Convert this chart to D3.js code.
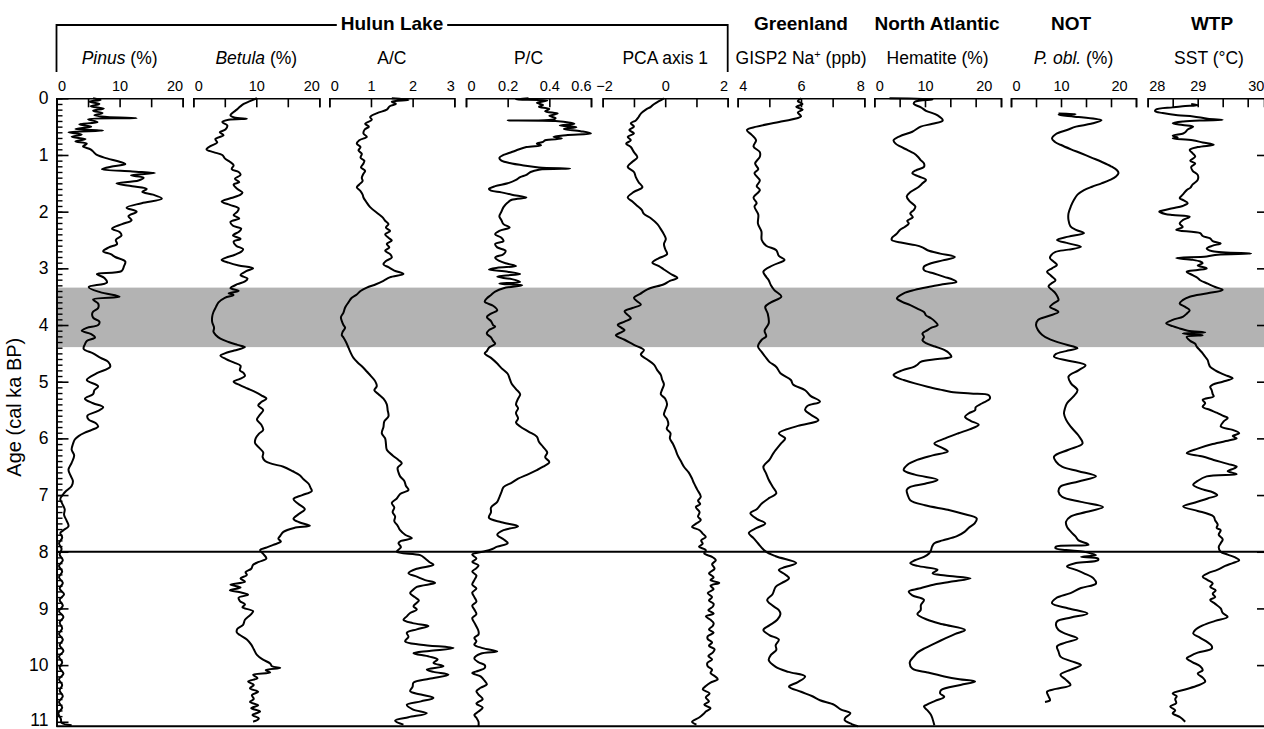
<!DOCTYPE html>
<html>
<head>
<meta charset="utf-8">
<script src="https://cdn.jsdelivr.net/npm/d3@7"></script>
<style>
  body { margin: 0; background: #fff; }
  svg { display: block; font-family: "Liberation Sans", Arial, sans-serif; }
</style>
</head>
<body>
<div class="chart"></div>
<script>
// records as [age (cal ka BP), value]
const pinus = [[0,5.8],[0.03,7.0],[0.06,5.2],[0.1,6.8],[0.14,5.4],[0.18,7.5],[0.22,5.8],[0.26,7.3],[0.3,6.0],[0.33,8.0],[0.35,12.7],[0.37,5.0],[0.42,6.5],[0.46,3.6],[0.5,5.5],[0.54,3.0],[0.57,7.4],[0.6,1.9],[0.64,4.0],[0.68,2.4],[0.72,4.6],[0.76,3.0],[0.8,4.8],[0.85,4.2],[0.9,5.4],[0.95,5.9],[1.0,6.4],[1.06,8.0],[1.12,10.0],[1.16,10.9],[1.2,9.0],[1.25,7.2],[1.29,12.0],[1.32,15.6],[1.36,11.8],[1.4,13.8],[1.45,13.0],[1.5,9.5],[1.55,12.0],[1.6,14.3],[1.65,13.6],[1.7,15.3],[1.77,16.7],[1.85,13.5],[1.93,11.1],[2.0,12.7],[2.08,11.4],[2.15,11.9],[2.22,10.4],[2.3,8.8],[2.36,10.0],[2.42,10.3],[2.5,9.4],[2.57,9.6],[2.63,8.3],[2.7,7.4],[2.75,8.6],[2.8,9.3],[2.88,10.9],[2.96,10.7],[3.05,10.3],[3.1,6.4],[3.17,7.6],[3.25,8.0],[3.33,5.1],[3.42,6.9],[3.5,10.0],[3.55,5.8],[3.62,6.6],[3.7,6.6],[3.78,5.7],[3.87,5.8],[3.94,6.8],[4.0,6.6],[4.05,4.8],[4.1,4.0],[4.16,5.5],[4.22,6.1],[4.28,4.8],[4.34,4.5],[4.42,4.3],[4.5,5.8],[4.58,7.0],[4.65,8.2],[4.74,8.5],[4.85,6.4],[4.97,4.8],[5.08,6.6],[5.15,6.0],[5.22,5.8],[5.3,4.5],[5.38,5.8],[5.45,7.4],[5.52,6.5],[5.6,4.9],[5.67,5.1],[5.73,6.2],[5.79,6.6],[5.85,5.6],[5.9,4.5],[5.96,3.5],[6.02,2.9],[6.1,2.6],[6.2,2.4],[6.3,2.8],[6.43,2.4],[6.55,1.9],[6.65,2.2],[6.75,2.6],[6.84,2.4],[6.92,1.6],[6.98,1.1],[7.07,0.6],[7.15,0.9],[7.25,1.3],[7.35,1.2],[7.45,1.6],[7.55,1.9],[7.62,1.1],[7.67,0.6],[7.75,0.9],[7.85,0.4],[7.95,0.8],[8.05,0.5],[8.15,1.0],[8.25,0.4],[8.35,0.9],[8.45,0.4],[8.55,1.0],[8.65,0.5],[8.75,1.2],[8.85,0.5],[8.95,1.0],[9.05,0.4],[9.15,1.1],[9.25,0.5],[9.35,0.9],[9.45,0.4],[9.55,1.0],[9.65,0.5],[9.75,1.1],[9.85,0.4],[9.95,0.9],[10.05,0.5],[10.15,1.1],[10.25,0.4],[10.35,0.9],[10.45,0.5],[10.55,1.0],[10.65,0.4],[10.75,0.9],[10.85,0.3],[10.95,0.7],[11.02,0.8],[11.06,2.4]];

const betula = [[0,10.1],[0.05,9.0],[0.1,8.0],[0.15,7.4],[0.2,6.9],[0.26,6.2],[0.3,5.9],[0.34,6.5],[0.36,8.5],[0.38,5.6],[0.42,4.6],[0.48,5.4],[0.55,5.1],[0.6,4.2],[0.65,4.8],[0.72,3.5],[0.78,3.8],[0.84,2.8],[0.9,2.1],[0.95,3.2],[1.0,4.6],[1.06,5.0],[1.12,5.8],[1.18,6.4],[1.25,6.1],[1.3,7.2],[1.35,7.5],[1.42,6.6],[1.48,7.3],[1.52,6.4],[1.6,7.0],[1.66,7.8],[1.7,7.5],[1.76,6.0],[1.82,4.5],[1.88,5.8],[1.94,7.2],[2.0,7.0],[2.06,6.4],[2.12,7.3],[2.18,5.9],[2.25,6.3],[2.3,7.6],[2.35,7.3],[2.42,6.3],[2.48,7.5],[2.53,6.4],[2.6,6.8],[2.66,7.9],[2.7,7.7],[2.76,6.6],[2.81,5.2],[2.85,4.5],[2.9,5.6],[2.95,7.2],[3.0,9.5],[3.05,8.4],[3.12,7.5],[3.18,8.6],[3.23,8.2],[3.28,7.0],[3.35,5.9],[3.4,7.2],[3.44,5.6],[3.47,6.4],[3.52,5.0],[3.6,4.0],[3.68,3.6],[3.77,3.2],[3.85,3.0],[3.95,3.0],[4.05,3.3],[4.12,3.2],[4.18,3.6],[4.24,4.3],[4.3,5.6],[4.35,7.0],[4.39,8.2],[4.45,6.5],[4.5,5.0],[4.54,4.3],[4.6,5.2],[4.66,6.4],[4.72,7.5],[4.8,7.4],[4.85,8.0],[4.9,8.2],[4.95,7.4],[5.0,6.4],[5.06,7.4],[5.12,8.6],[5.18,9.8],[5.24,10.8],[5.3,11.6],[5.36,10.8],[5.42,10.3],[5.5,11.1],[5.58,10.6],[5.67,10.1],[5.76,10.8],[5.85,11.1],[5.92,10.4],[6.0,9.9],[6.08,9.8],[6.16,10.4],[6.25,11.1],[6.33,11.0],[6.4,11.4],[6.45,12.5],[6.5,14.3],[6.58,15.8],[6.65,16.9],[6.72,17.5],[6.8,18.3],[6.87,18.6],[6.93,18.8],[7.0,17.3],[7.07,15.9],[7.15,16.6],[7.25,17.7],[7.33,16.8],[7.42,15.9],[7.48,16.8],[7.54,18.5],[7.58,16.0],[7.65,14.3],[7.72,13.8],[7.77,13.5],[7.82,13.9],[7.88,12.7],[7.93,11.5],[7.97,10.6],[8.05,11.2],[8.12,11.6],[8.18,10.4],[8.23,9.5],[8.3,9.2],[8.36,8.3],[8.41,8.5],[8.47,7.5],[8.53,8.2],[8.58,5.9],[8.63,7.5],[8.68,5.8],[8.72,7.6],[8.76,8.7],[8.81,7.2],[8.87,7.4],[8.93,8.2],[8.98,7.8],[9.05,9.5],[9.12,9.0],[9.2,8.2],[9.29,7.9],[9.36,7.0],[9.42,6.9],[9.47,7.4],[9.55,8.5],[9.64,9.2],[9.72,9.6],[9.82,10.1],[9.9,11.0],[9.97,12.2],[10.02,12.5],[10.05,13.8],[10.09,11.5],[10.13,12.2],[10.17,9.5],[10.23,10.2],[10.29,8.7],[10.35,9.6],[10.41,9.0],[10.47,10.3],[10.53,9.3],[10.6,9.6],[10.65,9.0],[10.71,10.3],[10.76,9.2],[10.82,10.6],[10.88,9.4],[10.94,10.4],[11.0,9.5]];

const ac = [[0,1.5],[0.03,1.9],[0.06,1.5],[0.1,1.6],[0.14,1.45],[0.2,1.38],[0.26,1.15],[0.33,0.98],[0.38,1.02],[0.45,0.86],[0.5,0.95],[0.55,0.85],[0.62,0.82],[0.68,0.9],[0.74,0.72],[0.8,0.66],[0.86,0.75],[0.92,0.7],[0.98,0.78],[1.05,0.75],[1.1,0.84],[1.15,0.82],[1.22,0.76],[1.28,0.86],[1.33,0.82],[1.4,0.78],[1.46,0.8],[1.52,0.72],[1.57,0.66],[1.63,0.74],[1.7,0.8],[1.75,0.82],[1.82,0.88],[1.92,0.98],[2.04,1.18],[2.1,1.28],[2.16,1.34],[2.22,1.42],[2.28,1.36],[2.34,1.46],[2.4,1.34],[2.46,1.42],[2.51,1.5],[2.57,1.38],[2.63,1.44],[2.69,1.34],[2.75,1.46],[2.81,1.5],[2.87,1.36],[2.93,1.3],[2.98,1.42],[3.04,1.56],[3.1,1.78],[3.16,1.45],[3.22,1.3],[3.28,1.12],[3.34,0.9],[3.4,0.75],[3.46,0.66],[3.52,0.54],[3.6,0.46],[3.69,0.38],[3.78,0.34],[3.86,0.28],[3.93,0.3],[4.0,0.34],[4.05,0.38],[4.12,0.32],[4.18,0.3],[4.22,0.34],[4.3,0.4],[4.4,0.46],[4.5,0.52],[4.58,0.58],[4.66,0.68],[4.74,0.8],[4.82,0.9],[4.9,1.0],[4.99,1.1],[5.08,1.14],[5.15,1.08],[5.22,1.18],[5.3,1.3],[5.4,1.38],[5.5,1.4],[5.61,1.42],[5.7,1.32],[5.8,1.3],[5.91,1.26],[6.0,1.34],[6.1,1.36],[6.2,1.38],[6.3,1.52],[6.38,1.66],[6.44,1.74],[6.52,1.64],[6.6,1.66],[6.67,1.7],[6.75,1.8],[6.84,1.84],[6.91,1.9],[6.98,1.7],[7.06,1.62],[7.14,1.5],[7.22,1.56],[7.3,1.52],[7.38,1.58],[7.46,1.56],[7.54,1.64],[7.62,1.7],[7.7,1.82],[7.76,1.98],[7.81,1.72],[7.85,1.66],[7.92,1.72],[8.0,1.62],[8.06,2.18],[8.12,2.3],[8.18,2.4],[8.23,2.5],[8.3,2.1],[8.38,1.9],[8.44,2.1],[8.5,2.3],[8.55,2.54],[8.62,2.1],[8.68,2.0],[8.73,1.94],[8.8,2.05],[8.86,2.15],[8.9,2.1],[8.96,2.02],[9.02,2.1],[9.08,1.94],[9.14,1.86],[9.2,1.78],[9.26,2.0],[9.31,2.38],[9.37,2.1],[9.43,1.86],[9.5,1.9],[9.58,1.82],[9.64,2.2],[9.7,2.98],[9.75,2.4],[9.79,2.02],[9.85,2.4],[9.9,2.6],[9.96,2.5],[10.02,2.74],[10.08,2.34],[10.12,2.5],[10.17,2.86],[10.24,2.4],[10.31,2.02],[10.38,2.0],[10.46,1.94],[10.52,2.2],[10.58,2.5],[10.64,2.2],[10.7,1.86],[10.78,2.0],[10.85,2.34],[10.92,1.9],[10.98,1.58],[11.05,1.78]];

const pc = [[0,0.3],[0.02,0.24],[0.04,0.39],[0.08,0.34],[0.12,0.37],[0.15,0.35],[0.19,0.4],[0.23,0.38],[0.27,0.44],[0.31,0.4],[0.35,0.43],[0.38,0.41],[0.39,0.2],[0.4,0.43],[0.43,0.5],[0.45,0.52],[0.48,0.45],[0.51,0.53],[0.54,0.47],[0.58,0.55],[0.62,0.6],[0.65,0.48],[0.68,0.42],[0.71,0.46],[0.74,0.38],[0.77,0.37],[0.8,0.34],[0.83,0.36],[0.86,0.29],[0.92,0.24],[0.96,0.21],[1.0,0.18],[1.05,0.16],[1.1,0.17],[1.15,0.22],[1.18,0.27],[1.22,0.35],[1.24,0.5],[1.26,0.35],[1.3,0.31],[1.35,0.29],[1.39,0.26],[1.44,0.24],[1.5,0.2],[1.55,0.14],[1.6,0.11],[1.63,0.12],[1.66,0.17],[1.7,0.22],[1.75,0.29],[1.79,0.22],[1.84,0.2],[1.92,0.18],[2.0,0.17],[2.08,0.16],[2.15,0.17],[2.22,0.18],[2.28,0.21],[2.34,0.16],[2.4,0.14],[2.46,0.17],[2.52,0.18],[2.57,0.14],[2.63,0.15],[2.69,0.19],[2.75,0.18],[2.81,0.14],[2.87,0.16],[2.92,0.2],[2.96,0.24],[2.99,0.15],[3.02,0.11],[3.06,0.2],[3.1,0.26],[3.13,0.18],[3.15,0.15],[3.19,0.22],[3.24,0.26],[3.27,0.16],[3.3,0.27],[3.35,0.18],[3.41,0.14],[3.47,0.12],[3.53,0.1],[3.59,0.09],[3.66,0.13],[3.74,0.15],[3.8,0.12],[3.86,0.1],[3.93,0.12],[4.0,0.13],[4.03,0.14],[4.09,0.11],[4.15,0.1],[4.22,0.12],[4.28,0.13],[4.33,0.14],[4.4,0.11],[4.46,0.1],[4.5,0.09],[4.58,0.12],[4.68,0.15],[4.76,0.17],[4.86,0.2],[4.95,0.21],[5.04,0.22],[5.13,0.24],[5.22,0.26],[5.3,0.25],[5.4,0.24],[5.47,0.25],[5.55,0.24],[5.65,0.25],[5.72,0.24],[5.79,0.26],[5.88,0.3],[5.97,0.34],[6.06,0.35],[6.15,0.37],[6.25,0.39],[6.33,0.38],[6.42,0.4],[6.5,0.37],[6.56,0.34],[6.63,0.3],[6.71,0.25],[6.78,0.22],[6.86,0.18],[6.95,0.17],[7.04,0.16],[7.12,0.15],[7.22,0.12],[7.3,0.12],[7.4,0.11],[7.48,0.17],[7.55,0.25],[7.62,0.18],[7.7,0.15],[7.78,0.18],[7.85,0.2],[7.91,0.15],[7.96,0.12],[8.0,0.08],[8.05,0.03],[8.12,0.05],[8.18,0.03],[8.24,0.06],[8.29,0.05],[8.35,0.03],[8.42,0.05],[8.5,0.04],[8.58,0.03],[8.65,0.05],[8.72,0.03],[8.8,0.04],[8.88,0.05],[8.95,0.03],[9.02,0.04],[9.1,0.05],[9.17,0.03],[9.25,0.04],[9.32,0.05],[9.4,0.06],[9.46,0.06],[9.52,0.04],[9.58,0.05],[9.64,0.04],[9.7,0.08],[9.76,0.15],[9.8,0.07],[9.88,0.04],[9.95,0.06],[10.0,0.09],[10.05,0.09],[10.1,0.06],[10.14,0.03],[10.2,0.07],[10.28,0.09],[10.34,0.1],[10.4,0.07],[10.46,0.05],[10.52,0.06],[10.6,0.08],[10.68,0.05],[10.75,0.08],[10.82,0.06],[10.88,0.04],[10.93,0.05],[11.0,0.06],[11.08,0.06]];

const pca = [[0,-0.04],[0.05,-0.2],[0.1,-0.35],[0.15,-0.46],[0.2,-0.62],[0.27,-0.78],[0.33,-0.85],[0.39,-0.94],[0.44,-1.1],[0.5,-1.0],[0.56,-1.15],[0.62,-1.0],[0.68,-1.2],[0.74,-1.1],[0.8,-1.25],[0.86,-1.1],[0.95,-1.0],[1.04,-0.89],[1.12,-1.05],[1.21,-1.2],[1.3,-1.0],[1.39,-0.94],[1.48,-0.85],[1.57,-0.73],[1.65,-1.0],[1.75,-1.2],[1.82,-1.05],[1.9,-0.89],[1.97,-0.75],[2.04,-0.68],[2.12,-0.45],[2.22,-0.25],[2.3,-0.15],[2.4,-0.04],[2.48,0.02],[2.57,-0.04],[2.66,0.0],[2.75,0.06],[2.82,-0.2],[2.9,-0.41],[2.96,-0.2],[3.02,-0.04],[3.1,0.18],[3.17,0.39],[3.22,0.15],[3.28,-0.04],[3.37,-0.57],[3.45,-0.8],[3.52,-1.0],[3.58,-0.9],[3.64,-0.78],[3.7,-1.05],[3.76,-1.3],[3.82,-1.2],[3.88,-1.1],[3.94,-1.3],[4.0,-1.52],[4.05,-1.4],[4.09,-1.3],[4.14,-1.45],[4.18,-1.58],[4.26,-1.3],[4.35,-1.0],[4.44,-0.68],[4.52,-0.78],[4.6,-0.6],[4.7,-0.36],[4.8,-0.25],[4.88,-0.14],[4.96,-0.1],[5.05,-0.04],[5.14,-0.1],[5.22,-0.14],[5.3,0.0],[5.4,0.06],[5.5,0.0],[5.58,-0.04],[5.66,0.06],[5.75,0.1],[5.83,0.05],[5.91,0.17],[6.0,0.15],[6.1,0.25],[6.2,0.33],[6.3,0.4],[6.4,0.5],[6.5,0.6],[6.6,0.75],[6.7,0.85],[6.79,0.92],[6.9,1.02],[7.03,1.14],[7.1,1.05],[7.16,1.12],[7.21,0.98],[7.3,1.1],[7.38,1.05],[7.44,1.14],[7.5,1.0],[7.56,0.86],[7.62,1.1],[7.68,1.2],[7.74,1.3],[7.8,1.15],[7.86,1.2],[7.91,1.08],[7.97,1.3],[8.03,1.25],[8.09,1.5],[8.15,1.62],[8.22,1.5],[8.3,1.58],[8.38,1.4],[8.45,1.55],[8.5,1.45],[8.55,1.73],[8.6,1.45],[8.66,1.55],[8.73,1.36],[8.8,1.5],[8.86,1.4],[8.92,1.55],[8.97,1.52],[9.03,1.38],[9.09,1.55],[9.14,1.3],[9.2,1.45],[9.26,1.55],[9.31,1.52],[9.37,1.4],[9.43,1.55],[9.49,1.36],[9.54,1.36],[9.6,1.5],[9.66,1.4],[9.72,1.58],[9.78,1.52],[9.84,1.38],[9.9,1.5],[9.96,1.35],[10.02,1.36],[10.08,1.5],[10.14,1.45],[10.2,1.6],[10.25,1.68],[10.31,1.45],[10.37,1.3],[10.43,1.2],[10.5,1.42],[10.57,1.3],[10.64,1.4],[10.7,1.25],[10.76,1.45],[10.82,1.3],[10.85,1.25],[10.92,1.1],[11.0,0.86],[11.05,1.0]];

const gisp2 = [[0,6.0],[0.05,5.9],[0.1,6.05],[0.15,5.85],[0.2,6.05],[0.25,5.9],[0.32,6.0],[0.41,5.37],[0.5,4.6],[0.56,4.29],[0.65,4.45],[0.74,4.58],[0.85,4.5],[0.95,4.7],[1.03,4.7],[1.15,4.55],[1.25,4.65],[1.32,4.53],[1.45,4.7],[1.55,4.6],[1.62,4.7],[1.75,4.5],[1.85,4.6],[1.91,4.53],[2.05,4.65],[2.21,4.64],[2.35,4.75],[2.5,4.76],[2.6,4.9],[2.68,5.22],[2.78,5.3],[2.85,5.48],[2.95,5.1],[3.06,4.81],[3.15,4.9],[3.21,4.98],[3.3,5.05],[3.38,5.15],[3.5,5.38],[3.6,5.05],[3.68,4.87],[3.8,4.95],[3.97,4.98],[4.1,4.85],[4.2,4.9],[4.26,4.76],[4.38,4.64],[4.47,4.75],[4.56,4.87],[4.65,5.0],[4.74,5.22],[4.85,5.35],[4.97,5.68],[5.05,5.75],[5.15,6.13],[5.25,6.3],[5.35,6.6],[5.43,6.2],[5.5,6.13],[5.58,6.3],[5.68,6.55],[5.78,5.9],[5.91,5.3],[6.0,5.5],[6.09,5.37],[6.26,5.13],[6.38,5.0],[6.5,4.81],[6.62,4.9],[6.73,4.98],[6.85,5.1],[6.97,5.22],[7.05,5.0],[7.15,4.76],[7.25,4.6],[7.32,4.4],[7.42,4.6],[7.5,4.87],[7.58,4.6],[7.67,4.35],[7.76,4.5],[7.85,4.64],[7.99,4.87],[8.08,5.2],[8.2,5.85],[8.27,5.5],[8.32,5.3],[8.4,5.5],[8.47,5.62],[8.55,5.4],[8.62,5.2],[8.75,5.1],[8.85,4.93],[8.95,5.1],[9.03,5.3],[9.1,5.35],[9.2,5.25],[9.3,5.0],[9.38,4.81],[9.47,5.0],[9.55,5.3],[9.65,5.2],[9.73,5.22],[9.82,5.05],[9.91,4.98],[10.03,5.2],[10.12,5.6],[10.2,6.13],[10.3,5.9],[10.38,5.62],[10.47,6.0],[10.55,6.36],[10.62,6.6],[10.7,7.05],[10.78,7.25],[10.85,7.56],[10.93,7.4],[10.97,7.38],[11.04,7.6],[11.08,7.8]];

const hematite = [[0,3.0],[0.02,11.5],[0.06,8.0],[0.1,7.8],[0.16,9.2],[0.22,10.2],[0.3,12.5],[0.39,13.5],[0.45,11.5],[0.5,9.15],[0.59,7.5],[0.67,5.0],[0.74,3.8],[0.8,4.2],[0.85,5.1],[0.91,6.5],[0.97,7.8],[1.03,8.6],[1.09,9.15],[1.15,9.8],[1.21,9.8],[1.27,8.2],[1.32,7.5],[1.38,8.8],[1.44,10.2],[1.5,9.5],[1.56,8.8],[1.65,7.2],[1.73,6.4],[1.82,7.0],[1.91,8.1],[1.97,7.8],[2.03,7.1],[2.1,7.6],[2.16,6.5],[2.21,6.8],[2.27,6.0],[2.32,5.1],[2.4,4.3],[2.46,3.5],[2.5,3.45],[2.55,5.5],[2.59,8.1],[2.63,9.5],[2.68,10.5],[2.74,13.0],[2.8,15.9],[2.86,13.5],[2.91,11.2],[2.97,9.8],[3.03,9.8],[3.09,11.8],[3.15,13.8],[3.2,15.5],[3.24,16.2],[3.28,13.5],[3.32,11.2],[3.38,8.0],[3.44,5.8],[3.53,4.46],[3.59,5.5],[3.65,7.1],[3.71,8.5],[3.77,9.8],[3.83,10.2],[3.88,11.2],[3.94,12.0],[4.0,12.5],[4.05,11.2],[4.09,10.5],[4.15,9.5],[4.21,9.8],[4.27,9.5],[4.32,10.2],[4.38,12.0],[4.44,13.8],[4.5,14.8],[4.56,15.2],[4.6,12.5],[4.65,9.15],[4.7,8.5],[4.74,7.8],[4.8,5.5],[4.88,3.8],[4.93,4.5],[4.97,5.8],[5.03,8.0],[5.09,10.5],[5.14,13.0],[5.18,15.2],[5.21,19.0],[5.24,22.6],[5.3,22.8],[5.38,21.3],[5.45,20.0],[5.5,19.9],[5.56,18.6],[5.62,17.9],[5.69,19.0],[5.76,20.6],[5.84,18.8],[5.91,16.6],[6.0,14.0],[6.09,11.85],[6.16,13.2],[6.23,14.5],[6.3,11.5],[6.38,8.45],[6.47,6.5],[6.56,5.8],[6.64,8.0],[6.73,12.5],[6.8,10.0],[6.86,7.0],[6.91,6.4],[7.0,6.6],[7.09,7.1],[7.18,10.0],[7.26,14.5],[7.33,17.5],[7.41,20.2],[7.5,19.8],[7.58,18.6],[7.65,17.8],[7.73,16.2],[7.8,13.5],[7.85,11.85],[7.91,11.4],[7.97,11.2],[8.03,10.8],[8.09,9.8],[8.15,8.0],[8.2,7.1],[8.25,8.5],[8.32,12.5],[8.38,11.5],[8.42,14.0],[8.47,19.0],[8.53,15.0],[8.59,11.2],[8.65,8.8],[8.7,6.8],[8.77,7.5],[8.85,9.8],[8.94,9.2],[9.03,9.15],[9.1,8.5],[9.2,10.5],[9.28,13.5],[9.38,17.9],[9.45,16.0],[9.53,14.0],[9.62,11.85],[9.7,10.0],[9.78,8.5],[9.85,7.8],[9.95,7.0],[10.06,7.5],[10.13,10.5],[10.2,13.8],[10.25,16.8],[10.29,19.9],[10.35,17.0],[10.44,13.2],[10.5,13.0],[10.56,13.8],[10.63,12.0],[10.7,10.3],[10.73,9.8],[10.8,10.5],[10.88,11.2],[10.95,11.5],[11.06,11.85]];

const pobl = [[0.27,9.5],[0.28,12.9],[0.29,9.5],[0.33,13.5],[0.39,18.1],[0.45,16.0],[0.5,13.0],[0.56,11.2],[0.63,9.0],[0.71,8.2],[0.77,8.8],[0.82,9.9],[0.9,12.0],[0.97,14.0],[1.05,16.2],[1.12,18.1],[1.2,20.0],[1.27,21.2],[1.32,21.5],[1.38,21.0],[1.44,19.8],[1.5,18.1],[1.56,16.2],[1.62,14.6],[1.7,13.3],[1.79,12.6],[1.9,12.0],[2.03,11.5],[2.15,11.5],[2.26,11.9],[2.32,13.0],[2.38,14.6],[2.44,11.5],[2.5,9.2],[2.56,11.5],[2.62,14.0],[2.67,11.5],[2.71,8.9],[2.77,8.0],[2.82,7.8],[2.88,8.5],[2.94,9.2],[3.0,8.2],[3.06,7.2],[3.13,8.0],[3.21,8.9],[3.27,8.0],[3.32,7.5],[3.38,8.2],[3.44,8.9],[3.5,9.3],[3.56,9.5],[3.62,8.5],[3.68,7.8],[3.72,8.6],[3.77,9.5],[3.84,7.5],[3.91,5.4],[4.0,5.0],[4.09,5.4],[4.17,6.2],[4.24,7.5],[4.32,10.0],[4.38,12.5],[4.41,13.3],[4.46,11.0],[4.51,9.0],[4.56,8.6],[4.63,11.5],[4.71,14.9],[4.8,13.5],[4.91,11.5],[5.03,12.0],[5.15,13.3],[5.26,12.5],[5.38,11.2],[5.47,10.8],[5.56,10.6],[5.67,11.0],[5.79,11.9],[5.95,13.5],[6.09,14.3],[6.2,11.5],[6.32,8.6],[6.41,9.0],[6.5,10.2],[6.58,13.5],[6.67,17.0],[6.76,13.5],[6.85,9.9],[6.94,9.5],[7.03,10.2],[7.12,14.0],[7.21,18.4],[7.3,15.0],[7.38,11.9],[7.47,11.0],[7.56,11.2],[7.65,12.0],[7.73,12.9],[7.8,13.5],[7.86,15.3],[7.88,15.5],[7.91,9.0],[7.94,8.9],[7.97,11.0],[8.0,14.6],[8.03,16.0],[8.06,17.0],[8.09,14.0],[8.12,17.4],[8.15,17.4],[8.2,13.0],[8.26,11.2],[8.32,13.0],[8.38,14.6],[8.47,16.5],[8.56,17.0],[8.64,14.0],[8.73,11.9],[8.82,9.0],[8.91,8.2],[9.0,11.5],[9.09,15.3],[9.16,12.0],[9.23,9.2],[9.3,9.0],[9.38,9.5],[9.45,11.0],[9.53,13.3],[9.6,11.0],[9.67,9.2],[9.76,9.5],[9.85,9.9],[9.93,12.0],[10.0,14.0],[10.08,12.0],[10.17,9.9],[10.26,11.0],[10.35,11.9],[10.42,9.0],[10.47,7.2],[10.55,7.5],[10.62,7.8],[10.65,6.8]];

const sst = [[0.1,28.87],[0.12,29.0],[0.14,28.7],[0.16,28.5],[0.2,28.16],[0.23,28.15],[0.26,28.3],[0.3,28.6],[0.32,28.91],[0.36,29.2],[0.38,29.5],[0.39,29.1],[0.41,28.71],[0.44,28.5],[0.47,28.7],[0.5,28.91],[0.55,28.8],[0.6,28.75],[0.62,28.71],[0.66,28.5],[0.69,28.6],[0.71,28.5],[0.74,28.9],[0.78,29.1],[0.82,29.32],[0.86,29.0],[0.91,28.84],[0.97,28.9],[1.03,28.95],[1.1,28.85],[1.15,28.95],[1.21,28.87],[1.28,28.9],[1.35,29.0],[1.44,29.0],[1.52,28.9],[1.58,28.85],[1.62,28.78],[1.7,28.7],[1.76,28.64],[1.8,28.72],[1.85,28.8],[1.9,28.7],[1.94,28.5],[1.98,28.3],[2.0,28.23],[2.04,28.35],[2.06,28.5],[2.09,28.84],[2.15,28.7],[2.21,28.64],[2.27,28.7],[2.32,28.57],[2.38,29.05],[2.43,29.1],[2.47,29.25],[2.52,29.3],[2.56,29.46],[2.6,29.3],[2.65,29.18],[2.7,29.3],[2.74,30.07],[2.76,29.4],[2.79,29.18],[2.82,28.57],[2.85,28.9],[2.88,29.05],[2.91,29.1],[2.95,29.0],[3.0,29.18],[3.03,29.0],[3.06,28.78],[3.12,28.9],[3.17,29.0],[3.21,29.05],[3.27,29.2],[3.33,29.35],[3.38,29.5],[3.44,29.2],[3.5,28.84],[3.56,28.7],[3.62,28.64],[3.68,28.75],[3.74,28.84],[3.8,28.78],[3.85,28.71],[3.91,28.5],[3.97,28.37],[4.02,28.5],[4.06,28.64],[4.1,28.8],[4.13,29.15],[4.15,28.7],[4.18,29.1],[4.21,28.78],[4.28,28.85],[4.33,28.95],[4.38,28.98],[4.45,29.05],[4.5,29.1],[4.56,29.15],[4.62,29.2],[4.68,29.22],[4.74,29.25],[4.8,29.35],[4.85,29.46],[4.9,29.6],[4.94,29.7],[5.0,29.5],[5.05,29.3],[5.09,29.25],[5.15,29.28],[5.22,29.3],[5.26,29.32],[5.32,29.1],[5.38,29.15],[5.44,29.1],[5.5,29.25],[5.55,29.39],[5.6,29.5],[5.64,29.6],[5.7,29.52],[5.79,29.46],[5.85,29.7],[5.91,29.83],[5.96,29.7],[6.0,29.78],[6.03,29.66],[6.1,29.3],[6.18,29.0],[6.26,28.78],[6.32,29.1],[6.38,29.32],[6.45,29.6],[6.5,29.78],[6.53,29.73],[6.58,29.6],[6.63,29.78],[6.67,29.18],[6.75,29.0],[6.82,28.91],[6.9,29.1],[6.95,29.3],[7.0,29.39],[7.06,29.2],[7.13,28.95],[7.2,28.71],[7.28,29.0],[7.33,29.2],[7.38,29.32],[7.45,29.35],[7.52,29.4],[7.58,29.38],[7.62,29.46],[7.7,29.42],[7.78,29.5],[7.85,29.46],[7.92,29.42],[8.0,29.46],[8.05,29.6],[8.1,29.75],[8.15,29.83],[8.2,29.7],[8.25,29.55],[8.32,29.39],[8.38,29.2],[8.44,29.1],[8.5,29.2],[8.56,29.3],[8.62,29.25],[8.68,29.36],[8.74,29.3],[8.8,29.35],[8.85,29.25],[8.92,29.35],[9.0,29.46],[9.08,29.5],[9.15,29.6],[9.22,29.35],[9.3,29.1],[9.38,28.95],[9.44,28.91],[9.52,29.05],[9.6,29.2],[9.66,29.28],[9.71,29.28],[9.78,29.0],[9.84,28.85],[9.88,28.78],[9.95,28.9],[10.02,29.05],[10.09,29.1],[10.15,29.0],[10.22,29.1],[10.29,29.15],[10.36,29.0],[10.43,28.75],[10.5,28.5],[10.55,28.58],[10.6,28.55],[10.67,28.57],[10.73,28.45],[10.8,28.55],[10.85,28.5],[10.92,28.65],[11.0,28.75]];

// axis tick labels
const pinusLabels = [0, 10, 20];
const betulaLabels = [0, 10, 20];
const acLabels = [0, 1, 2, 3];
const pcLabels = [0, 0.2, 0.4, 0.6];
const pcaLabels = [-2, 0, 2];
const gisp2Labels = [4, 6, 8];
const hematiteLabels = [0, 10, 20];
const poblLabels = [0, 10, 20];
const sstLabels = [28, 29, 30];
const ageLabels = d3.range(0, 12);

// highlighted interval and boundary (cal ka BP)
const bandAges = [3.34, 4.39];
const boundaryAge = 8;

const width = 1264, height = 729;
const ageMax = 11.08;
const font = '"Liberation Sans", Arial, sans-serif';

const svg = d3.select('.chart')
    .append('svg')
    .attr('width', width)
    .attr('height', height);

const y = d3.scaleLinear()
    .domain([0, ageMax])
    .range([98.3, 98.3 + ageMax * 56.68]);

// layout of each column
const panels = [
    { data: pinus, domain: [0, 20], range: [56.5, 182.7], step: 5, labels: pinusLabels },
    { data: betula, domain: [0, 20], range: [193.3, 319.3], step: 5, labels: betulaLabels },
    { data: ac, domain: [0, 3], range: [329.3, 454.3], step: 1, labels: acLabels },
    { data: pc, domain: [0, 0.6], range: [466, 591], step: 0.2, labels: pcLabels },
    { data: pca, domain: [-2, 2], range: [602.7, 727.7], step: 1, labels: pcaLabels },
    { data: gisp2, domain: [4, 8], range: [737.7, 864.3], step: 1, labels: gisp2Labels },
    { data: hematite, domain: [0, 25], range: [874.3, 1001], step: 5, labels: hematiteLabels },
    { data: pobl, domain: [0, 25], range: [1011, 1136], step: 5, labels: poblLabels },
    { data: sst, domain: [28, 30.326], range: [1147.7, 1264], step: 0.5, labels: sstLabels }
];

const x0 = 56.5, x1 = width;

// grey band
svg.append('rect')
    .attr('x', x0)
    .attr('y', y(bandAges[0]))
    .attr('width', x1 - x0)
    .attr('height', y(bandAges[1]) - y(bandAges[0]))
    .attr('fill', '#b3b3b3');

const fmt = d3.format('');

panels.forEach(p => {
    const x = d3.scaleLinear().domain(p.domain).range(p.range);

    const line = d3.line()
        .x(d => x(d[1]))
        .y(d => y(d[0]))
        .curve(d3.curveCatmullRom.alpha(0.5));

    svg.append('path')
        .datum(p.data)
        .attr('d', line)
        .attr('fill', 'none')
        .attr('stroke', '#000')
        .attr('stroke-width', 2)
        .attr('stroke-linejoin', 'round');

    const tickVals = d3.range(p.domain[0], p.domain[1] + 1e-9, p.step)
        .map(v => +v.toFixed(3));

    // ticks pointing down into the plot
    svg.append('g')
        .attr('transform', `translate(0,${y(0)})`)
        .call(d3.axisTop(x).tickValues(tickVals).tickSize(-9).tickSizeOuter(-9).tickFormat(''))
        .call(g => g.selectAll('path, line').attr('stroke', '#000').attr('stroke-width', 1.6));

    // labels above; end labels kept inside their own axis
    const last = p.labels.length - 1;
    svg.append('g')
        .attr('transform', `translate(0,${y(0)})`)
        .call(d3.axisTop(x).tickValues(p.labels).tickSize(0).tickPadding(7).tickFormat(fmt))
        .call(g => g.select('.domain').remove())
        .call(g => g.selectAll('text')
            .attr('font-family', font)
            .attr('font-size', 14.5)
            .attr('fill', '#000')
            .attr('text-anchor', (d, i) => i === 0 ? 'start' : (i === last ? (d === p.domain[1] ? 'end' : 'start') : 'middle'))
            .attr('dx', (d, i) => i === 0 && d < 0 ? -7 : (i === 0 ? 1 : 0)));
});

// left age axis
svg.append('g')
    .attr('transform', `translate(${x0},0)`)
    .call(d3.axisLeft(y).tickValues(d3.range(0, 110).map(i => i / 10)).tickSize(-6).tickSizeOuter(0).tickFormat(''))
    .call(g => g.selectAll('path, line').attr('stroke', '#000').attr('stroke-width', 1.4));

svg.append('g')
    .attr('transform', `translate(${x0},0)`)
    .call(d3.axisLeft(y).tickValues(ageLabels).tickSize(-12).tickSizeOuter(0).tickPadding(8).tickFormat(fmt))
    .call(g => g.select('.domain').attr('stroke-width', 1.8))
    .call(g => g.selectAll('line').attr('stroke-width', 1.6))
    .call(g => g.selectAll('text')
        .attr('font-family', font)
        .attr('font-size', 17.5)
        .attr('fill', '#000')
        .attr('dy', d => d === 11 ? '0.2em' : '0.32em'));

// right ticks
svg.append('g')
    .attr('transform', `translate(${x1},0)`)
    .call(d3.axisRight(y).tickValues(d3.range(1, 11)).tickSize(-7).tickSizeOuter(0).tickFormat(''))
    .call(g => g.select('.domain').remove())
    .call(g => g.selectAll('line').attr('stroke-width', 1.6));

// boundary and bottom lines
[boundaryAge, ageMax].forEach(a => {
    svg.append('line')
        .attr('x1', x0).attr('x2', x1)
        .attr('y1', y(a)).attr('y2', y(a))
        .attr('stroke', '#000')
        .attr('stroke-width', 2);
});

// y title
svg.append('text')
    .attr('transform', `translate(21,${y(5.45)}) rotate(-90)`)
    .attr('text-anchor', 'middle')
    .attr('font-size', 20)
    .text('Age (cal ka BP)');

// Hulun Lake bracket
const brTop = 25, brBot = 72;
const hx0 = panels[0].range[0], hx1 = panels[4].range[1];
svg.append('path')
    .attr('d', `M${hx0},${brBot}V${brTop}H${hx1}V${brBot}`)
    .attr('fill', 'none')
    .attr('stroke', '#000')
    .attr('stroke-width', 1.8);

const hulun = svg.append('text')
    .attr('x', 392)
    .attr('y', 30)
    .attr('text-anchor', 'middle')
    .attr('font-size', 19)
    .attr('font-weight', 'bold')
    .text('Hulun Lake');
const hb = hulun.node().getBBox();
svg.insert('rect', () => hulun.node())
    .attr('x', hb.x - 4).attr('y', brTop - 3)
    .attr('width', hb.width + 8).attr('height', 6)
    .attr('fill', '#fff');

// region titles
const regions = [
    { text: 'Greenland', x: 801 },
    { text: 'North Atlantic', x: 937 },
    { text: 'NOT', x: 1071 },
    { text: 'WTP', x: 1212 }
];
regions.forEach(r => {
    svg.append('text')
        .attr('x', r.x).attr('y', 30)
        .attr('text-anchor', 'middle')
        .attr('font-size', 19)
        .attr('font-weight', 'bold')
        .text(r.text);
});

// column subtitles: [text, italic, superscript]
const subtitles = [
    [['Pinus', true], [' (%)', false]],
    [['Betula', true], [' (%)', false]],
    [['A/C', false]],
    [['P/C', false]],
    [['PCA axis 1', false]],
    [['GISP2 Na', false], ['+', false, 'sup'], [' (ppb)', false]],
    [['Hematite (%)', false]],
    [['P. obl.', true], [' (%)', false]],
    [['SST (°C)', false]]
];
subtitles.forEach((parts, i) => {
    const r = panels[i].range;
    const cx = i === 8 ? 1209 : (r[0] + r[1]) / 2;
    const t = svg.append('text')
        .attr('x', cx).attr('y', 64)
        .attr('text-anchor', 'middle')
        .attr('font-size', 17.5);
    parts.forEach(pt => {
        const ts = t.append('tspan')
            .attr('font-style', pt[1] ? 'italic' : 'normal')
            .text(pt[0]);
        if (pt[2] === 'sup') {
            ts.attr('font-size', 11).attr('baseline-shift', '55%');
        }
    });
});
</script>
</body>
</html>
